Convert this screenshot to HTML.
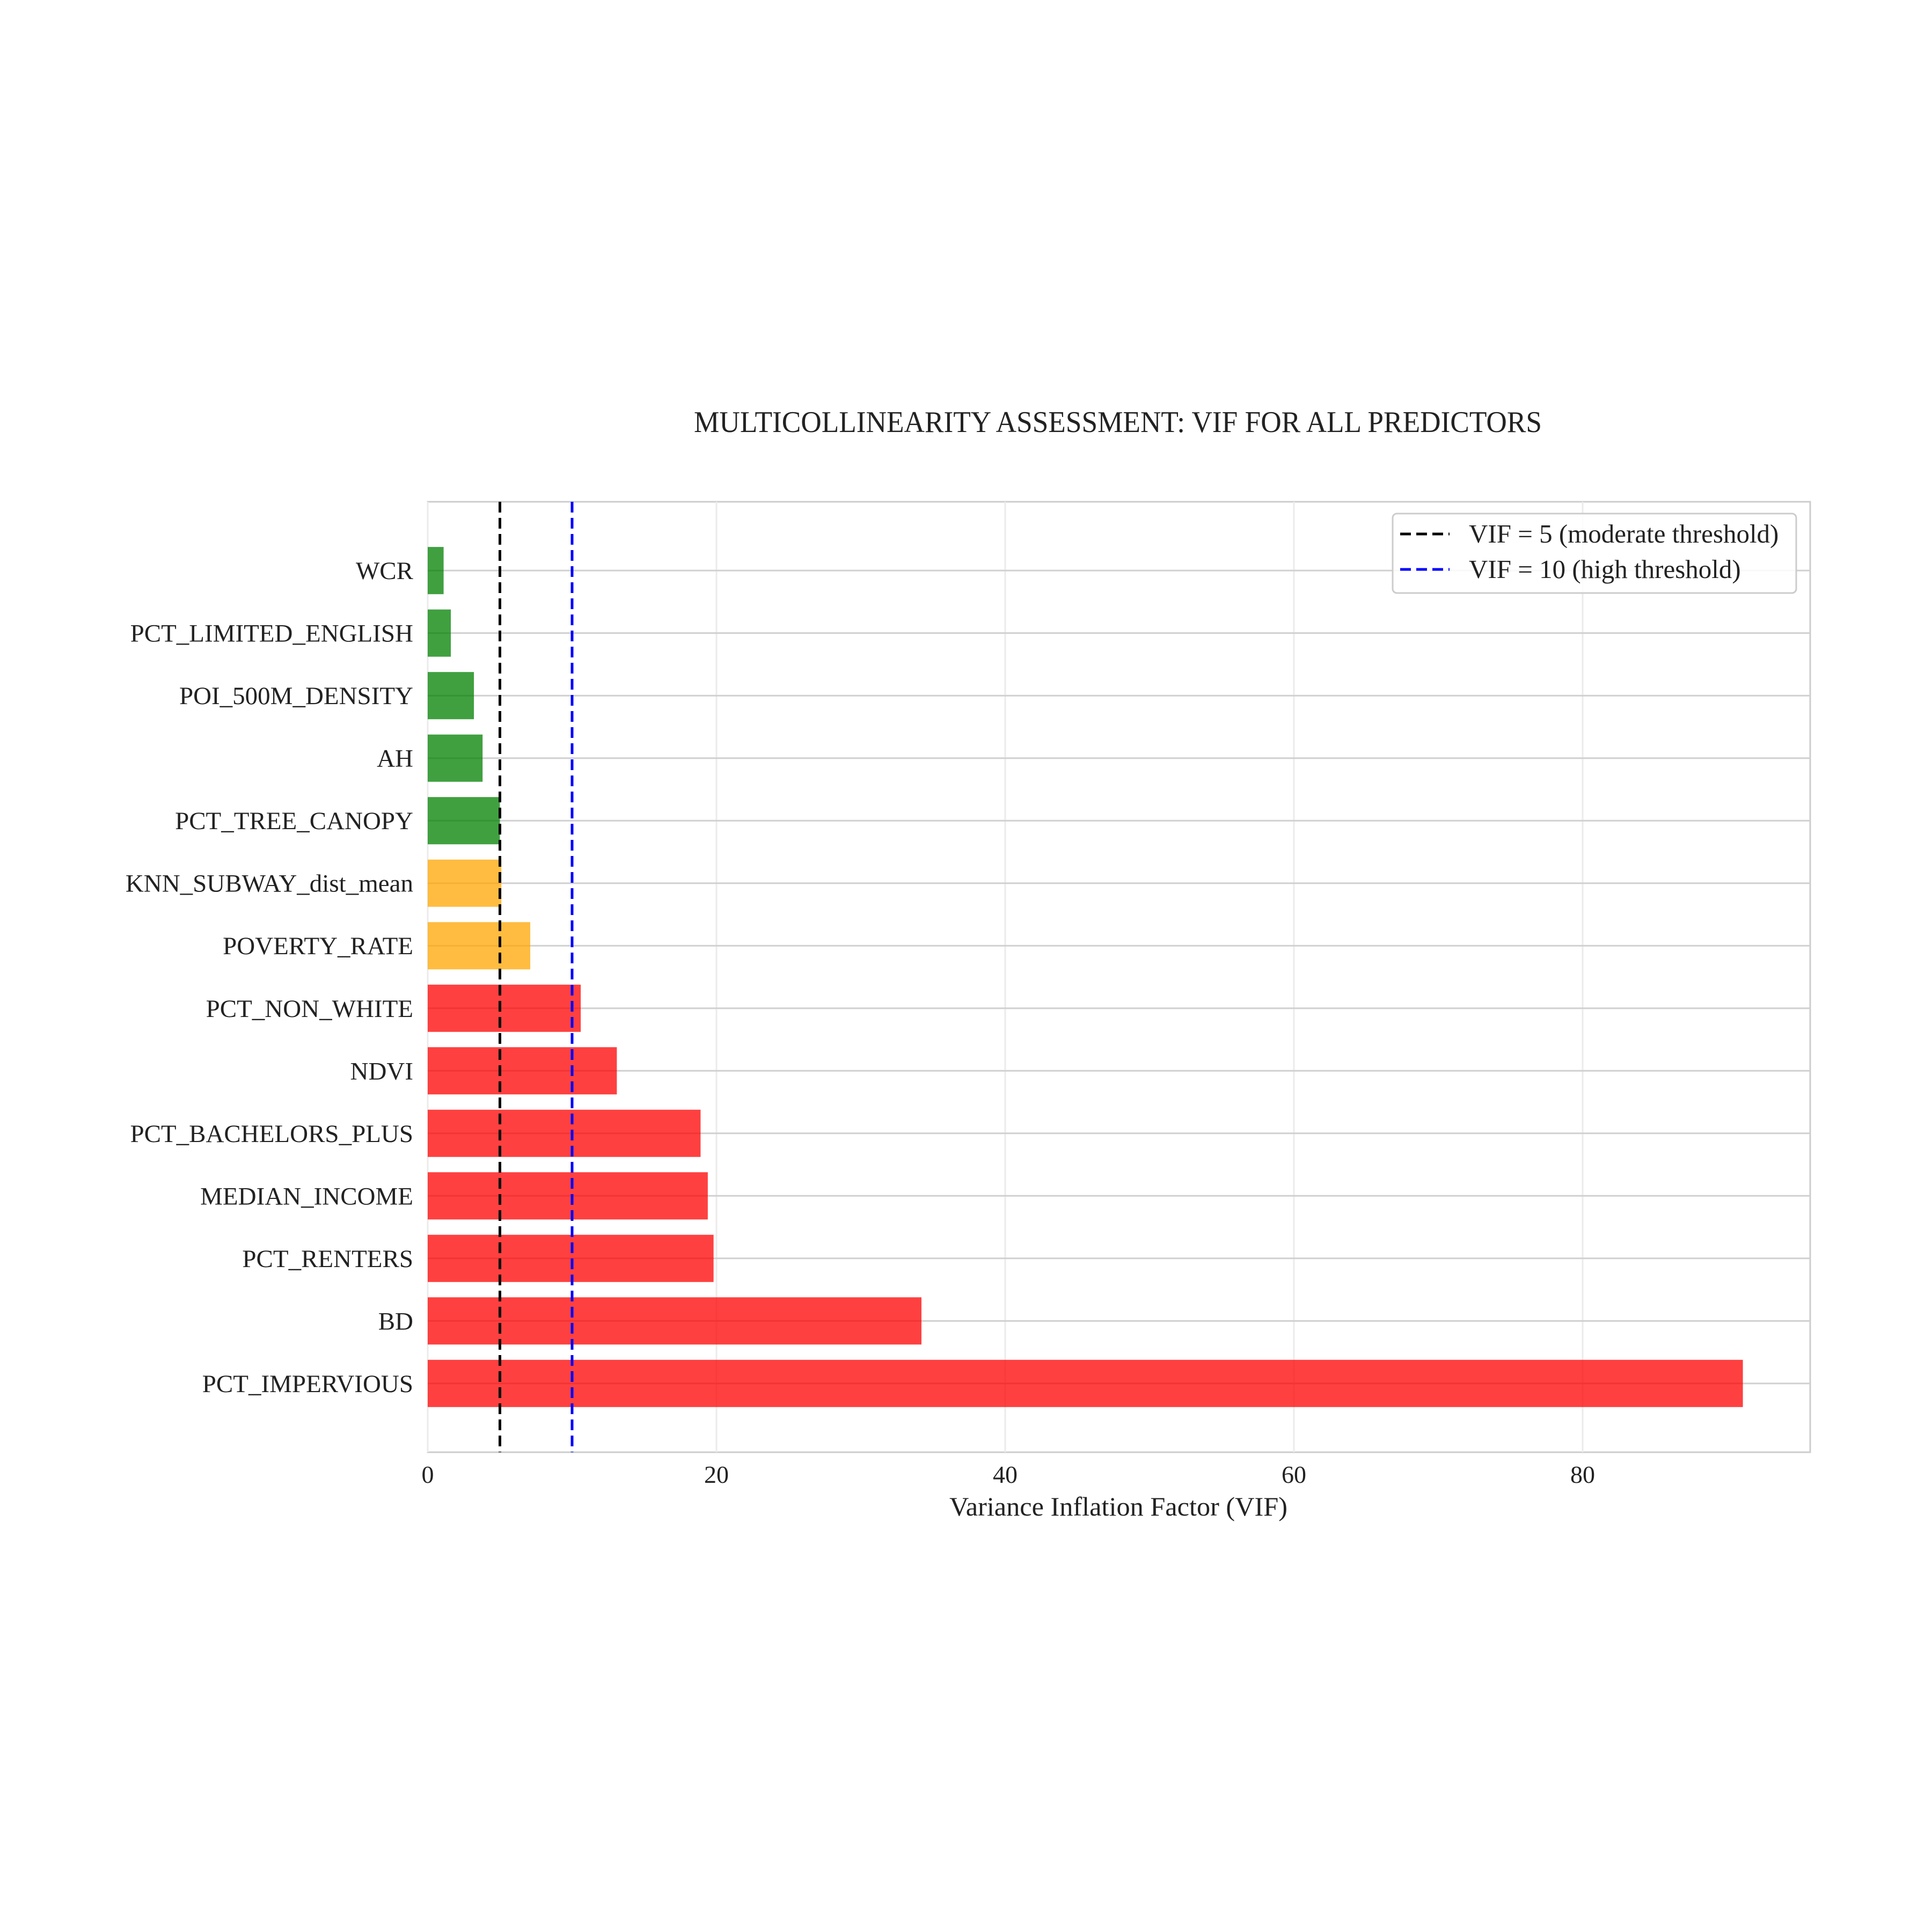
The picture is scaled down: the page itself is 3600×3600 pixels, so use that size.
<!DOCTYPE html>
<html><head><meta charset="utf-8"><style>
html,body{margin:0;padding:0;background:#fff}
svg{display:block;font-family:"Liberation Serif",serif}
</style></head><body>
<svg id="chart" width="3600" height="3600" viewBox="0 0 3600 3600" xmlns="http://www.w3.org/2000/svg">
<rect width="3600" height="3600" fill="#fff"/>
<text x="2083" y="805" text-anchor="middle" font-size="56" fill="#222" textLength="1580" lengthAdjust="spacingAndGlyphs">MULTICOLLINEARITY ASSESSMENT: VIF FOR ALL PREDICTORS</text>
<g id="plot"></g>
<text x="2084" y="2824" text-anchor="middle" font-size="50" fill="#222" textLength="630" lengthAdjust="spacingAndGlyphs">Variance Inflation Factor (VIF)</text>
</svg>
<script>
const categories = ["WCR","PCT_LIMITED_ENGLISH","POI_500M_DENSITY","AH","PCT_TREE_CANOPY","KNN_SUBWAY_dist_mean","POVERTY_RATE","PCT_NON_WHITE","NDVI","PCT_BACHELORS_PLUS","MEDIAN_INCOME","PCT_RENTERS","BD","PCT_IMPERVIOUS"];
const vifValues = [1.1,1.6,3.2,3.8,5.0,5.1,7.1,10.6,13.1,18.9,19.4,19.8,34.2,91.1];
const xTicks = [0,20,40,60,80];
const thresholds = [5,10];
const thresholdLabels = ["VIF = 5 (moderate threshold)","VIF = 10 (high threshold)"];

const NS="http://www.w3.org/2000/svg";
const L=797,R=3373,T=935,B=2706;
const unit=26.9;
const xs=v=>L+v*unit;
const step=(B-T)/(categories.length-1+2.2);
const ys=i=>T+(i+1.1)*step;
const barH=88;
const g=document.getElementById('plot');
function mk(tag,attrs,parent){const e=document.createElementNS(NS,tag);for(const k in attrs)e.setAttribute(k,attrs[k]);(parent||g).appendChild(e);return e;}
function colorFor(v){return v>10?"rgba(255,0,0,0.75)":(v>5?"rgba(255,165,0,0.75)":"rgba(0,128,0,0.75)");}

const frame=mk('rect',{x:L,y:T,width:R-L,height:B-T,fill:'none',stroke:'#cccccc','stroke-width':3});


xTicks.forEach(t=>{
  const gl=mk('line',{x1:xs(t),x2:xs(t),y1:T,y2:B,stroke:'#ebebeb','stroke-width':3});
  
  
  const tl=mk('text',{x:xs(t),y:2763,'text-anchor':'middle','font-size':46,fill:'#222'});
  tl.textContent=t;
  
  
});
categories.forEach((c,i)=>{
  const gl=mk('line',{x1:L,x2:R,y1:ys(i),y2:ys(i),stroke:'#d0d0d0','stroke-width':3});
  
  
});
categories.forEach((c,i)=>{
  const v=vifValues[i];
  const b=mk('rect',{x:L,y:ys(i)-barH/2,width:xs(v)-L,height:barH,fill:colorFor(v)});
  
  
  const t=mk('text',{x:770,y:ys(i)+16,'text-anchor':'end','font-size':47,fill:'#222'});
  t.textContent=c;
  
  
});
const tColors=['#000','#0000ff'];
thresholds.forEach((v,i)=>{
  const l=mk('line',{x1:xs(v),x2:xs(v),y1:T,y2:B,stroke:tColors[i],'stroke-width':5,'stroke-dasharray':'20 10'});
  
  
});
const lg=mk('g',{});


const box=mk('rect',{x:2595,y:957,width:752,height:148,rx:8,fill:'rgba(255,255,255,0.85)',stroke:'#cccccc','stroke-width':3},lg);


thresholdLabels.forEach((s,i)=>{
  const y=995+i*66;
  const hl=mk('line',{x1:2609,x2:2701,y1:y,y2:y,stroke:tColors[i],'stroke-width':5,'stroke-dasharray':'20 10'},lg);
  
  
  const tx=mk('text',{x:2737,y:y+16,'font-size':49,fill:'#222'},lg);
  tx.textContent=s;
  
  
});
</script>
</body></html>
